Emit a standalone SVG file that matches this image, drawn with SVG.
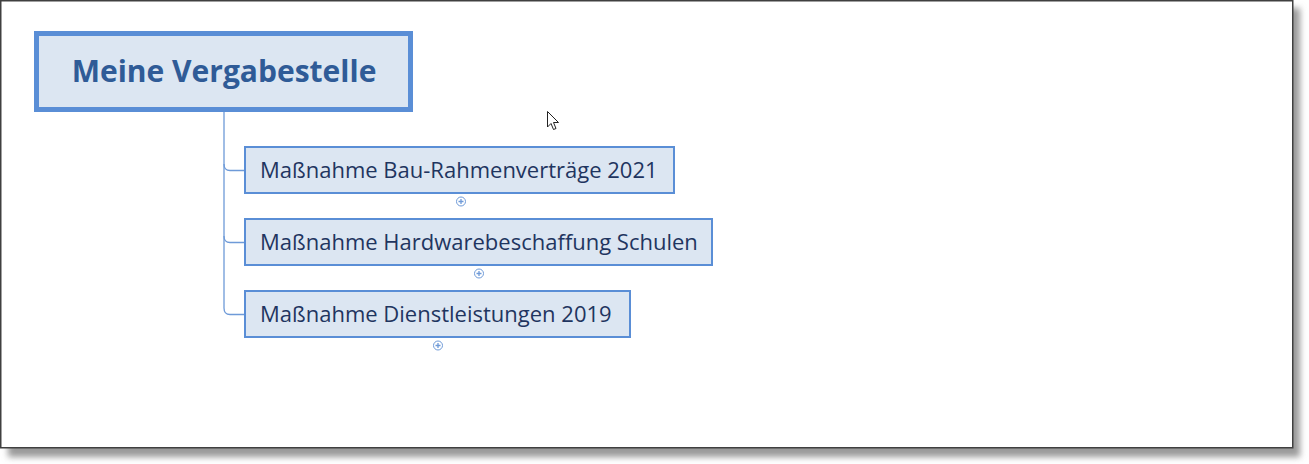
<svg xmlns="http://www.w3.org/2000/svg" width="1309" height="464" viewBox="0 0 1309 464">
<defs>
<filter id="sh" x="-5%" y="-5%" width="110%" height="115%">
<feGaussianBlur stdDeviation="3"/>
</filter>
<style>
.frame{fill:#fff;stroke:#404040;stroke-width:1.5}
.main{fill:#dce6f2;stroke:#5a8ed6;stroke-width:5}
.child{fill:#dce6f2;stroke:#5a8ed6;stroke-width:2}
.mt{font-family:"Open Sans","Noto Sans",sans-serif;font-weight:bold;font-size:30px;fill:#2f5b97}
.ct{font-family:"Open Sans","Noto Sans",sans-serif;font-size:22px;fill:#1f3560}
.conn{fill:none;stroke:#6e9ad8;stroke-width:1.3}
.exp{fill:#fff;stroke:#6e9ad8;stroke-width:1}
</style>
</defs>
<rect x="8" y="8" width="1292" height="449" fill="#9a9a9a" filter="url(#sh)"/>
<rect class="frame" x="0.75" y="0.75" width="1292" height="447"/>
<g id="connectors">
<path class="conn" d="M224,112 V164 Q224,170.5 230,170.5 H245"/>
<path class="conn" d="M224,164 V236 Q224,242.5 230,242.5 H245"/>
<path class="conn" d="M224,236 V308 Q224,314.5 230,314.5 H245"/>
</g>
<g id="main">
<rect class="main" x="36.5" y="33.5" width="374" height="76"/>
<text class="mt" x="224" y="82" text-anchor="middle">Meine Vergabestelle</text>
</g>
<g id="n1">
<rect class="child" x="245" y="147" width="429" height="46"/>
<text class="ct" x="260" y="178">Maßnahme Bau-Rahmenverträge 2021</text>
<circle class="exp" cx="461" cy="201.5" r="4.5"/>
<path class="conn" d="M458.5,201.5 H463.5 M461,199 V204"/>
</g>
<g id="n2">
<rect class="child" x="245" y="219" width="467" height="46"/>
<text class="ct" x="260" y="250">Maßnahme Hardwarebeschaffung Schulen</text>
<circle class="exp" cx="479" cy="273.5" r="4.5"/>
<path class="conn" d="M476.5,273.5 H481.5 M479,271 V276"/>
</g>
<g id="n3">
<rect class="child" x="245" y="291" width="385" height="46"/>
<text class="ct" x="260" y="322">Maßnahme Dienstleistungen 2019</text>
<circle class="exp" cx="438" cy="345.5" r="4.5"/>
<path class="conn" d="M435.5,345.5 H440.5 M438,343 V348"/>
</g>
<path d="M547.5,111.5 V127 L551,123.5 L553.5,129.5 L556,128.5 L553.5,122.5 L558.5,122.5 Z" fill="#fff" stroke="#222" stroke-width="1"/>
</svg>
